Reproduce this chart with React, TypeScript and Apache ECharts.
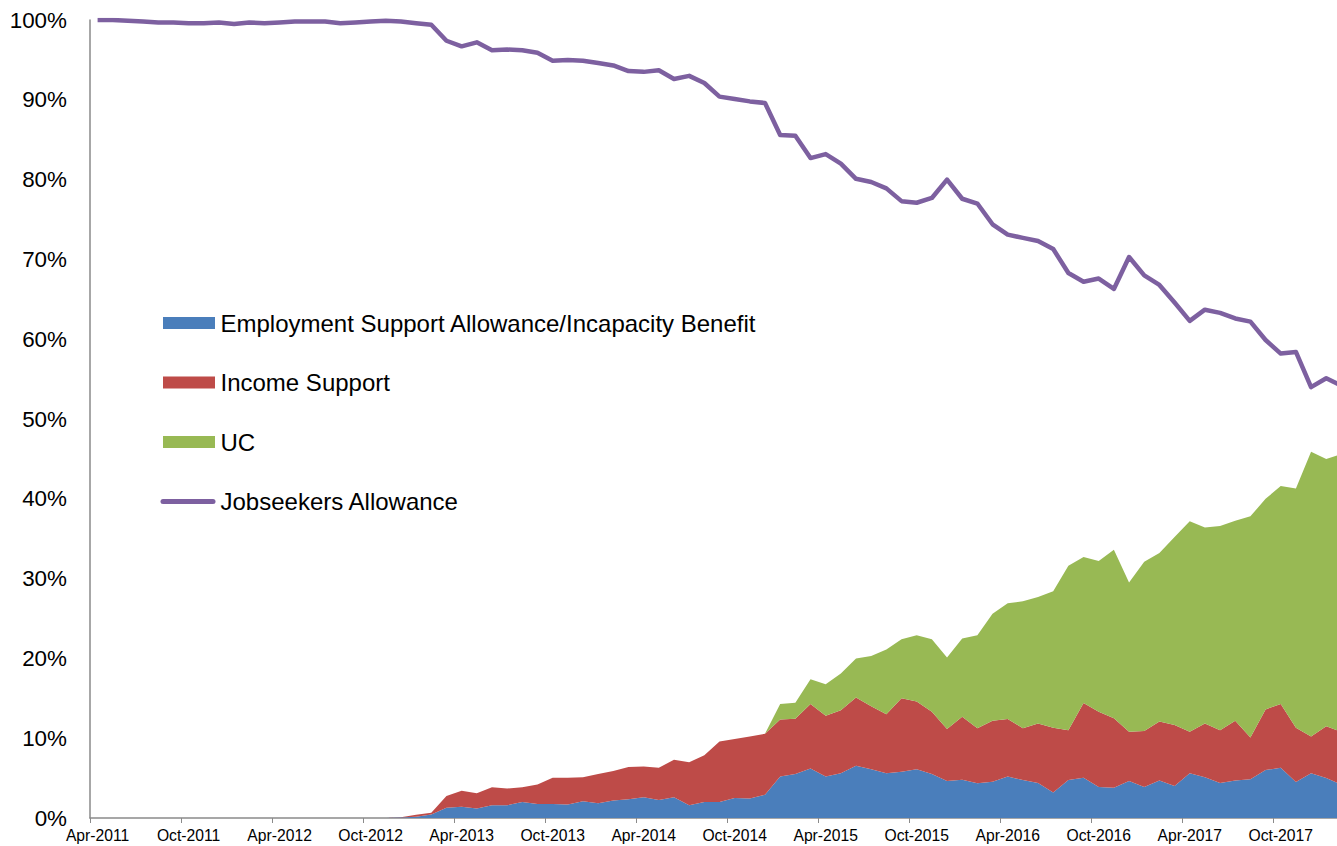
import React, { useEffect, useRef } from "react";
import * as echarts from "echarts";

const months: string[] = [
  "Apr-2011", "May-2011", "Jun-2011", "Jul-2011", "Aug-2011", "Sep-2011",
  "Oct-2011", "Nov-2011", "Dec-2011", "Jan-2012", "Feb-2012", "Mar-2012",
  "Apr-2012", "May-2012", "Jun-2012", "Jul-2012", "Aug-2012", "Sep-2012",
  "Oct-2012", "Nov-2012", "Dec-2012", "Jan-2013", "Feb-2013", "Mar-2013",
  "Apr-2013", "May-2013", "Jun-2013", "Jul-2013", "Aug-2013", "Sep-2013",
  "Oct-2013", "Nov-2013", "Dec-2013", "Jan-2014", "Feb-2014", "Mar-2014",
  "Apr-2014", "May-2014", "Jun-2014", "Jul-2014", "Aug-2014", "Sep-2014",
  "Oct-2014", "Nov-2014", "Dec-2014", "Jan-2015", "Feb-2015", "Mar-2015",
  "Apr-2015", "May-2015", "Jun-2015", "Jul-2015", "Aug-2015", "Sep-2015",
  "Oct-2015", "Nov-2015", "Dec-2015", "Jan-2016", "Feb-2016", "Mar-2016",
  "Apr-2016", "May-2016", "Jun-2016", "Jul-2016", "Aug-2016", "Sep-2016",
  "Oct-2016", "Nov-2016", "Dec-2016", "Jan-2017", "Feb-2017", "Mar-2017",
  "Apr-2017", "May-2017", "Jun-2017", "Jul-2017", "Aug-2017", "Sep-2017",
  "Oct-2017", "Nov-2017", "Dec-2017", "Jan-2018", "Feb-2018",
];

// Employment Support Allowance / Incapacity Benefit (%)
const esa: number[] = [
  0, 0, 0, 0, 0, 0, 0, 0, 0, 0, 0, 0,
  0, 0, 0, 0, 0, 0, 0, 0, 0.05, 0.15, 0.45, 1.3,
  1.4, 1.2, 1.6, 1.6, 2.0, 1.75, 1.75, 1.7, 2.1, 1.85, 2.2, 2.35,
  2.6, 2.25, 2.6, 1.6, 2.0, 2.0, 2.5, 2.45, 2.9, 5.2, 5.5, 6.2,
  5.2, 5.6, 6.55, 6.1, 5.6, 5.8, 6.1, 5.5, 4.65, 4.8, 4.35, 4.55,
  5.2, 4.75, 4.4, 3.2, 4.75, 5.05, 3.9, 3.8, 4.65, 3.9, 4.7, 4.0,
  5.6, 5.1, 4.4, 4.7, 4.85, 6.0, 6.3, 4.5, 5.6, 5.0, 4.2,
];

// Income Support (%)
const incomeSupport: number[] = [
  0, 0, 0, 0, 0, 0, 0, 0, 0, 0, 0, 0,
  0, 0, 0, 0, 0, 0, 0, 0, 0.05, 0.25, 0.22, 1.45,
  2.0, 1.9, 2.25, 2.1, 1.85, 2.45, 3.3, 3.35, 3.0, 3.65, 3.7, 4.05,
  3.85, 4.05, 4.7, 5.4, 5.85, 7.6, 7.4, 7.75, 7.65, 7.15, 6.95, 8.1,
  7.6, 7.9, 8.55, 7.9, 7.4, 9.2, 8.5, 7.8, 6.5, 7.9, 6.9, 7.65,
  7.2, 6.5, 7.45, 8.1, 6.25, 9.35, 9.4, 8.7, 6.15, 7.0, 7.4, 7.65,
  5.2, 6.75, 6.6, 7.5, 5.25, 7.6, 8.0, 6.8, 4.6, 6.5, 6.6,
];

// Universal Credit (%)
const uc: number[] = [
  0, 0, 0, 0, 0, 0, 0, 0, 0, 0, 0, 0,
  0, 0, 0, 0, 0, 0, 0, 0, 0, 0, 0, 0,
  0, 0, 0, 0, 0, 0, 0, 0, 0, 0, 0, 0,
  0, 0, 0, 0, 0, 0, 0, 0, 0, 1.95, 2.0, 3.1,
  3.95, 4.6, 4.9, 6.3, 8.1, 7.4, 8.3, 9.1, 8.95, 9.8, 11.65, 13.4,
  14.5, 15.9, 15.85, 17.1, 20.6, 18.3, 18.9, 21.1, 18.7, 21.2, 21.1, 23.55,
  26.4, 24.55, 25.6, 25.05, 27.7, 26.4, 27.3, 30.0, 35.7, 33.5, 34.8,
];

// Jobseekers Allowance (%)
const jsa: number[] = [
  100, 100, 99.9, 99.8, 99.7, 99.7, 99.6, 99.6, 99.7, 99.5, 99.7, 99.6,
  99.7, 99.8, 99.8, 99.8, 99.6, 99.7, 99.8, 99.9, 99.8, 99.6, 99.4, 97.4,
  96.7, 97.2, 96.2, 96.3, 96.2, 95.9, 94.9, 95.0, 94.9, 94.6, 94.3, 93.6,
  93.5, 93.7, 92.6, 93.0, 92.1, 90.4, 90.1, 89.8, 89.6, 85.6, 85.5, 82.7,
  83.2, 82.0, 80.1, 79.7, 78.9, 77.3, 77.1, 77.7, 80.0, 77.6, 77.0, 74.4,
  73.1, 72.7, 72.3, 71.3, 68.3, 67.2, 67.6, 66.3, 70.3, 68.0, 66.8, 64.6,
  62.3, 63.7, 63.3, 62.6, 62.2, 59.9, 58.2, 58.4, 54.0, 55.1, 54.2,
];

const seriesNames: string[] = [
  "Employment Support Allowance/Incapacity Benefit",
  "Income Support",
  "UC",
  "Jobseekers Allowance",
];

const colors: string[] = ["#4A7EBB", "#BE4B48", "#98B954", "#7D60A0"];

const FONT = "'Liberation Sans', Arial, sans-serif";
const AXIS_GRAY = "#8a8a8a";

const RECT_ICON = "path://M0,0 M55,12 M2.5,0 L54.5,0 L54.5,12 L2.5,12 Z";
const LINE_ICON =
  "path://M0,0 M55,12 M2.5,3.5 L52.5,3.5 A2.5,2.5 0 0 1 52.5,8.5 L2.5,8.5 A2.5,2.5 0 0 1 2.5,3.5 Z";

export default function App() {
  const ref = useRef<HTMLDivElement>(null);

  useEffect(() => {
    if (!ref.current) return;
    const chart = echarts.init(ref.current, undefined, { renderer: "svg" });
    const areaSeries = (name: string, data: number[], color: string) => ({
      name,
      type: "line",
      stack: "total",
      data,
      symbol: "none",
      showSymbol: false,
      lineStyle: { width: 0, color },
      itemStyle: { color },
      areaStyle: { color, opacity: 1 },
      z: 2,
    });
    chart.setOption({
      animation: false,
      backgroundColor: "#ffffff",
      color: colors,
      grid: { left: 90, right: 0, top: 20, bottom: 28, containLabel: false },
      legend: {
        orient: "vertical",
        left: 160.5,
        top: 311,
        padding: 0,
        itemWidth: 55,
        itemHeight: 12,
        itemGap: 35.5,
        itemStyle: { borderWidth: 0 },
        textStyle: { fontSize: 24, fontFamily: FONT, color: "#000", lineHeight: 24 },
        data: [
          { name: seriesNames[0], icon: RECT_ICON },
          { name: seriesNames[1], icon: RECT_ICON },
          { name: seriesNames[2], icon: RECT_ICON },
          { name: seriesNames[3], icon: LINE_ICON },
        ],
      },
      xAxis: {
        type: "category",
        data: months,
        boundaryGap: true,
        axisLine: { show: true, lineStyle: { color: AXIS_GRAY, width: 1.5 } },
        axisTick: { show: true, interval: 5, length: 5, lineStyle: { color: AXIS_GRAY, width: 1 } },
        axisLabel: {
          interval: 5,
          fontSize: 15.7,
          fontFamily: FONT,
          color: "#000",
          margin: 9,
        },
        splitLine: { show: false },
      },
      yAxis: {
        type: "value",
        min: 0,
        max: 100,
        interval: 10,
        axisLine: { show: true, lineStyle: { color: AXIS_GRAY, width: 1.5 } },
        axisTick: { show: false },
        splitLine: { show: false },
        axisLabel: {
          formatter: "{value}%",
          fontSize: 22.4,
          fontFamily: FONT,
          color: "#000",
          margin: 23,
        },
      },
      series: [
        areaSeries(seriesNames[0], esa, colors[0]),
        areaSeries(seriesNames[1], incomeSupport, colors[1]),
        areaSeries(seriesNames[2], uc, colors[2]),
        {
          name: seriesNames[3],
          type: "line",
          data: jsa,
          symbol: "none",
          showSymbol: false,
          lineStyle: { width: 4.5, color: colors[3], join: "round" },
          itemStyle: { color: colors[3] },
          z: 5,
        },
      ],
    });
    return () => chart.dispose();
  }, []);

  return (
    <div
      style={{
        position: "fixed",
        left: 0,
        top: 0,
        width: 1337,
        height: 846,
        overflow: "hidden",
        background: "#ffffff",
      }}
    >
      <div ref={ref} style={{ width: 1349, height: 846 }} />
    </div>
  );
}
